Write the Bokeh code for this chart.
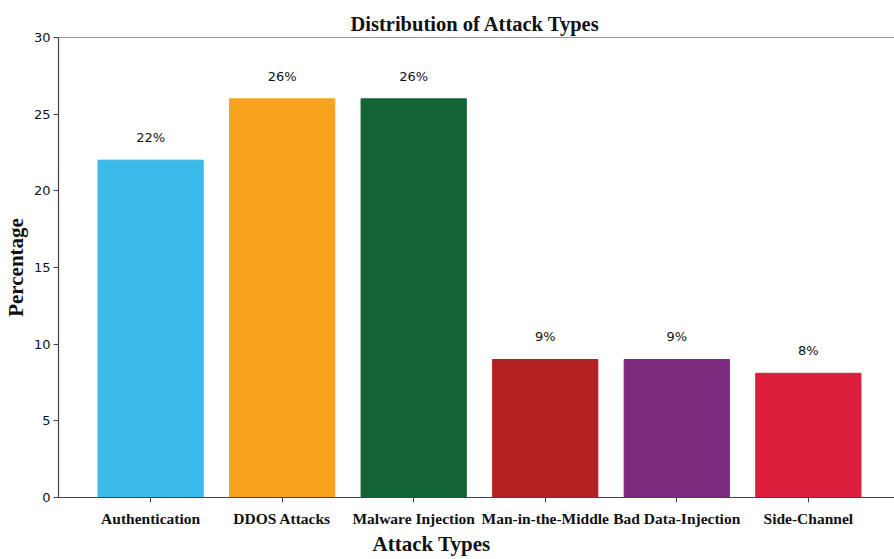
from bokeh.plotting import figure
from bokeh.models import Range1d, ColumnDataSource, Span, FixedTicker, Title
from bokeh.core.properties import value
from bokeh.embed import file_html
from bokeh.resources import INLINE

categories = ["Authentication", "DDOS Attacks", "Malware Injection",
              "Man-in-the-Middle", "Bad Data-Injection", "Side-Channel"]
percentages = [22, 26, 26, 9, 9, 8.1]
labels = ["22%", "26%", "26%", "9%", "9%", "8%"]
colors = ["#3CB9EB", "#F8A31E", "#126435", "#B22222", "#7B2A7E", "#DC1E3C"]
y_ticks = [0, 5, 10, 15, 20, 25, 30]

xs = list(range(len(categories)))
src = ColumnDataSource(dict(x=xs, top=percentages, color=colors,
                            label=labels, ly=[v + 1 for v in percentages]))

p = figure(frame_width=836, frame_height=460, output_backend="svg",
           toolbar_location=None, x_range=Range1d(-0.7, 5.655),
           y_range=Range1d(0, 30),
           min_border_left=58, min_border_right=0, min_border_top=37,
           min_border_bottom=62)

p.vbar(x="x", top="top", width=0.8, color="color", source=src)
p.text(x="x", y="ly", text="label", source=src, text_align="center",
       text_baseline="bottom", text_font=value("DejaVu Sans"),
       text_font_size="13px", text_color="#111111")

p.add_layout(Span(location=30, dimension="width", line_color="#333333",
                  line_width=1.2))

p.add_layout(Title(text="Attack Types", align="left", offset=314,
                   text_font="Liberation Serif", text_font_style="bold",
                   text_font_size="21px", text_color="#111111",
                   standoff=0), "below")

p.title.text = "Distribution of Attack Types"
p.title.align = "left"
p.title.offset = 292
p.title.text_font = "Liberation Serif"
p.title.text_font_style = "bold"
p.title.text_font_size = "20.5px"
p.title.text_color = "#111111"
p.title.standoff = 6

p.xaxis.ticker = FixedTicker(ticks=xs)
p.xaxis.major_label_overrides = {i: c for i, c in enumerate(categories)}
p.xaxis.major_label_text_font = "Liberation Serif"
p.xaxis.major_label_text_font_style = "bold"
p.xaxis.major_label_text_font_size = "15.5px"
p.xaxis.major_label_text_color = "#111111"
p.xaxis.major_label_standoff = 7
p.xaxis.minor_tick_line_color = None

p.yaxis.ticker = FixedTicker(ticks=y_ticks)
p.yaxis.major_label_text_font = "DejaVu Sans"
p.yaxis.major_label_text_font_size = "13px"
p.yaxis.major_label_text_color = "#111111"
p.yaxis.major_label_standoff = 3
p.yaxis.axis_label = "Percentage"
p.yaxis.axis_label_text_font = "Liberation Serif"
p.yaxis.axis_label_text_font_style = "bold"
p.yaxis.axis_label_text_font_size = "21px"
p.yaxis.axis_label_text_color = "#111111"
p.yaxis.axis_label_standoff = 3
p.yaxis.minor_tick_line_color = None

for ax in (p.xaxis, p.yaxis):
    ax.axis_line_color = "#444444"
    ax.axis_line_width = 1.2
    ax.major_tick_line_color = "#444444"
    ax.major_tick_out = 5
    ax.major_tick_in = 0

p.xgrid.grid_line_color = None
p.ygrid.grid_line_color = None
p.outline_line_color = None
p.background_fill_color = "white"
p.border_fill_color = "white"

open("out.html", "w").write(file_html(p, INLINE))
